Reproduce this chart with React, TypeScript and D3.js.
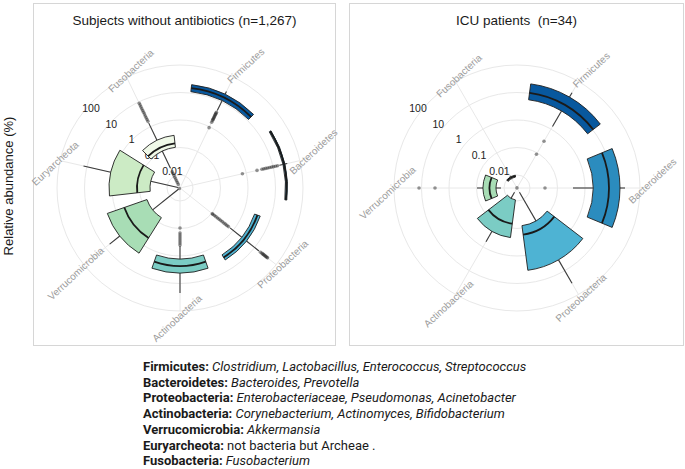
import React from 'react';
import * as d3 from 'd3';

// ---------- data ----------
const categoriesLeft = ['Firmicutes', 'Bacteroidetes', 'Proteobacteria', 'Actinobacteria', 'Verrucomicrobia', 'Euryarcheota', 'Fusobacteria'];
const categoriesRight = ['Firmicutes', 'Bacteroidetes', 'Proteobacteria', 'Actinobacteria', 'Verrucomicrobia', 'Fusobacteria'];

// relative abundance (%) box statistics, subjects without antibiotics
const leftLow = [4.5, 17.2, 0.715, 0.433, 0.004, 0.004, 0.0212];
const leftQ1 = [11.3, 23.1, 2.51, 1.285, 0.0631, 0.0415, 0.104];
const leftMedian = [15.2, 25.1, 3.23, 2.31, 0.471, 0.1233, 0.146];
const leftQ3 = [20.4, 27.3, 4.15, 4.15, 2.125, 1.285, 0.285];
const leftHigh = [26.2, 33.7, 15.85, 22.0, 6.31, 13.4, 1.4];
const leftOutliers = [
  [0.92, 1.52, 1.8, 1.95, 2.1, 2.3, 2.5, 2.7, 3.0, 3.2, 3.5, 3.8],
  [0.715, 2.51, 3.82, 4.51, 5.34, 6.31, 7.46, 8.82, 10.4, 12.3, 14.6],
  [0.107, 0.1135, 0.134, 0.158, 0.1875, 0.22, 0.26, 0.31, 0.37, 0.433, 0.51, 0.6, 18.7, 22, 24, 26, 28.5, 31, 33.7, 36.6, 39.8],
  [0.096, 0.146, 0.172, 0.204, 0.241, 0.285, 0.337, 0.398],
  [0.0036],
  [],
  [0.0047, 0.0056, 0.0066, 0.0078, 0.0092, 0.0109, 0.0129, 0.0152, 1.65, 1.95, 2.31, 2.73, 3.23, 3.82, 4.51, 5.34, 6.31, 7.46, 8.82],
];

// ICU patients
const rightLow = [1.285, 0.366, 0.0051, 0.0051, 0.0129, 0.0078];
const rightQ1 = [5.8, 1.954, 0.081, 0.0092, 0.0195, 0.0085];
const rightMedian = [10.43, 7.46, 0.172, 0.0686, 0.0337, 0.0092];
const rightQ3 = [22.15, 18.74, 3.51, 0.2215, 0.058, 0.01];
const rightHigh = [33.7, 28.5, 33.7, 0.605, 0.096, 0.0109];
const rightOutliers = [
  [0.088, 0.31],
  [0.0351],
  [],
  [],
  [3.23, 12.3],
  [0.0034],
];

const tickValues = [0.01, 0.1, 1, 10, 100];
const tickLabels = ['0.01', '0.1', '1', '10', '100'];

const legendNames = ['Firmicutes:', 'Bacteroidetes:', 'Proteobacteria:', 'Actinobacteria:', 'Verrucomicrobia:', 'Euryarcheota:', 'Fusobacteria:'];
const legendMembers = [
  'Clostridium, Lactobacillus, Enterococcus, Streptococcus',
  'Bacteroides, Prevotella',
  'Enterobacteriaceae, Pseudomonas, Acinetobacter',
  'Corynebacterium, Actinomyces, Bifidobacterium',
  'Akkermansia',
  'not bacteria but Archeae .',
  'Fusobacterium',
];
const legendItalic = [true, true, true, true, true, false, true];

const phylumColors: Record<string, string> = {
  Firmicutes: '#08589e',
  Bacteroidetes: '#2b8cbe',
  Proteobacteria: '#4eb3d3',
  Actinobacteria: '#7bccc4',
  Verrucomicrobia: '#a8ddb5',
  Euryarcheota: '#ccebc5',
  Fusobacteria: '#f0f9e8',
};

const R_MIN_VALUE = 0.00337;
const OUTER = 123;
const LABEL_ANGLE = 43;

type PanelProps = {
  cx: number; cy: number; cats: string[];
  low: number[]; q1: number[]; med: number[]; q3: number[]; high: number[]; outliers: number[][];
  title: string; frame: { x: number; y: number; w: number; h: number }; labelShift: number;
};

function Panel(p: PanelProps) {
  const { cx, cy, cats } = p;
  const rScale = d3.scaleLog().domain([R_MIN_VALUE, 100]).range([0, OUTER]);
  const band = d3.scaleBand<string>().domain(cats).range([0, 2 * Math.PI]);
  const step = band.bandwidth();
  const half = step * 0.375;
  const center = (c: string) => (band(c) as number) + step / 2;
  const pt = (a: number, r: number): [number, number] => [cx + r * Math.sin(a), cy - r * Math.cos(a)];
  const arcGen = d3.arc<any>();
  const font = '"Liberation Sans", Arial, sans-serif';
  const la = (LABEL_ANGLE * Math.PI) / 180;
  const textDir: [number, number] = [Math.cos(la), -Math.sin(la)];
  const perpDir: [number, number] = [Math.sin(la), Math.cos(la)];

  const medianPath = (a: number, r: number) => {
    const path = d3.path();
    const [x0, y0] = pt(a - half, r);
    path.moveTo(x0, y0);
    path.arc(cx, cy, r, a - half - Math.PI / 2, a + half - Math.PI / 2);
    return path.toString();
  };

  return (
    <g>
      <rect x={p.frame.x} y={p.frame.y} width={p.frame.w} height={p.frame.h} fill="white" stroke="#d6d6d6" strokeWidth={1} />
      <text x={p.frame.x + p.frame.w / 2} y={25} textAnchor="middle" fontFamily={font} fontSize={13.5} fill="#1a1a1a" style={{ whiteSpace: 'pre' }}>{p.title}</text>
      {tickValues.map((v) => (
        <circle key={'c' + v} cx={cx} cy={cy} r={rScale(v)} fill="none" stroke="#e8e8e8" strokeWidth={1} />
      ))}
      {cats.map((c) => {
        const [x1, y1] = pt(center(c), OUTER);
        return <line key={'g' + c} x1={cx} y1={cy} x2={x1} y2={y1} stroke="#e8e8e8" strokeWidth={1} />;
      })}
      {tickValues.map((v, i) => {
        const rr = rScale(v);
        return (
          <text key={'t' + v} x={cx + p.labelShift - 0.74 * rr} y={cy - (10 + 0.57 * rr) + 4} textAnchor="middle" fontFamily={font} fontSize={10.5} fill="#222">{tickLabels[i]}</text>
        );
      })}
      {cats.map((c) => {
        const a = center(c);
        const dot = Math.sin(a + la);
        const along = 3 + 12 * dot;
        const [bx, by] = pt(a, 126);
        const x = bx + textDir[0] * along + perpDir[0] * 2;
        const y = by + textDir[1] * along + perpDir[1] * 2;
        return (
          <text key={'l' + c} x={x} y={y} transform={`rotate(${-LABEL_ANGLE} ${x} ${y})`} textAnchor="middle" dominantBaseline="middle" fontFamily={font} fontSize={10} fill="#9d9d9d">{c}</text>
        );
      })}
      {cats.map((c, i) => {
        const a = center(c);
        const [ax, ay] = pt(a, rScale(p.low[i]));
        const [bx, by] = pt(a, rScale(p.q1[i]));
        const [dx, dy] = pt(a, rScale(p.q3[i]));
        const [ex, ey] = pt(a, rScale(p.high[i]));
        return (
          <g key={'w' + c} stroke="#3a3a3a" strokeWidth={1.1}>
            <line x1={ax} y1={ay} x2={bx} y2={by} />
            <line x1={dx} y1={dy} x2={ex} y2={ey} />
          </g>
        );
      })}
      {cats.map((c, i) => {
        const a = center(c);
        const d = arcGen({ innerRadius: rScale(p.q1[i]), outerRadius: rScale(p.q3[i]), startAngle: a - half, endAngle: a + half }) as string;
        return (
          <g key={'b' + c}>
            <path d={d} transform={`translate(${cx},${cy})`} fill={phylumColors[c]} stroke="#1f1f1f" strokeWidth={0.9} />
            <path d={medianPath(a, rScale(p.med[i]))} fill="none" stroke="#1a1a1a" strokeWidth={1.8} />
          </g>
        );
      })}
      {cats.map((c, i) => {
        const a = center(c);
        return p.outliers[i].map((v, j) => {
          const [x, y] = pt(a, rScale(v));
          return <circle key={'o' + c + j} cx={x} cy={y} r={1.8} fill="#2a2a2a" fillOpacity={0.5} />;
        });
      })}
    </g>
  );
}

export default function App() {
  const legendFont = 'Roboto, "Noto Sans", sans-serif';
  return (
    <svg width={685} height={469} style={{ position: 'absolute', left: 0, top: 0, background: 'white' }}>
      <text x={10} y={186} transform="rotate(-90 10 186)" textAnchor="middle" dominantBaseline="middle" fontFamily='"Liberation Sans", Arial, sans-serif' fontSize={13} fill="#1a1a1a">Relative abundance (%)</text>
      <Panel cx={180} cy={188} cats={categoriesLeft} low={leftLow} q1={leftQ1} med={leftMedian} q3={leftQ3} high={leftHigh} outliers={leftOutliers}
        title="Subjects without antibiotics (n=1,267)" frame={{ x: 33.5, y: 3.5, w: 302, h: 342 }} labelShift={2} />
      <Panel cx={517} cy={188} cats={categoriesRight} low={rightLow} q1={rightQ1} med={rightMedian} q3={rightQ3} high={rightHigh} outliers={rightOutliers}
        title="ICU patients  (n=34)" frame={{ x: 349.5, y: 3.5, w: 334, h: 342 }} labelShift={-8} />
      {legendNames.map((n, i) => (
        <text key={n} x={143} y={371 + i * 15.7} fontFamily={legendFont} fontSize={13} fill="#1a1a1a">
          <tspan fontWeight="bold">{n}</tspan>
          <tspan fontStyle={legendItalic[i] ? 'italic' : 'normal'}>{' ' + legendMembers[i]}</tspan>
        </text>
      ))}
    </svg>
  );
}
